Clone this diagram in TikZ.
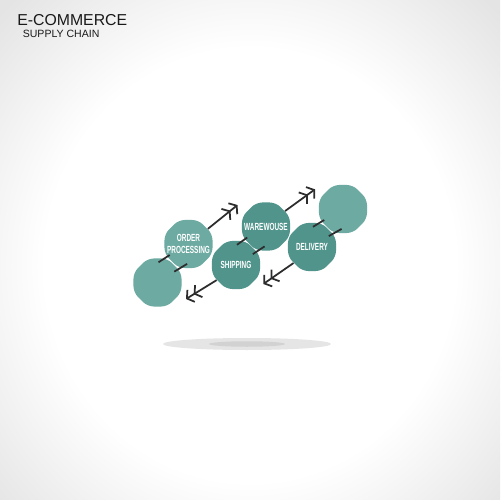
\documentclass[tikz,border=0pt]{standalone}
\usepackage{fontspec}
\setmainfont{Liberation Sans}
\newfontfamily\boxfont[FakeStretch=0.62]{Liberation Sans}
\usetikzlibrary{shapes.geometric}
\usetikzlibrary{arrows.meta}

\definecolor{tealA}{RGB}{108,170,162}
\definecolor{tealB}{RGB}{80,148,140}
\definecolor{linkgray}{RGB}{45,45,45}
\definecolor{bggray}{RGB}{228,228,228}

\pgfdeclareradialshading{bgglow}{\pgfpoint{0bp}{0bp}}{color(0bp)=(white); color(19bp)=(white); color(32bp)=(bggray); color(50bp)=(bggray)}

\tikzset{
	octbox/.style={regular polygon, regular polygon sides=8, minimum size=1.04cm, inner sep=0pt, rounded corners=3.5pt},
	boxtext/.style={text=white, align=center, inner sep=0pt, font=\boxfont\bfseries\fontsize{5.9}{6.6}\selectfont},
	link/.style={draw=linkgray, line width=1pt},
	flow/.style={draw=linkgray, line width=1pt, -{Straight Barb[length=2.8pt,width=8pt,sep=1.2pt]Straight Barb[length=2.8pt,width=8pt]}}
}

\begin{document}
\begin{tikzpicture}[x=0.02cm,y=-0.02cm]
	\useasboundingbox (0,0) rectangle (500,500);
	
	% background
	\begin{scope}
		\clip (0,0) rectangle (500,500);
		\shade[shading=bgglow] (-20,-20) rectangle (520,550);
	\end{scope}
	
	% shadow
	\fill[gray!20] (247,344) ellipse [x radius=1.68cm, y radius=0.12cm];
	\fill[gray!35] (247,344) ellipse [x radius=0.76cm, y radius=0.055cm];
	
	% title
	\node[anchor=base west, inner sep=0pt, text=black!90, font=\fontsize{9}{10}\selectfont] (title) at (17,26) {E-COMMERCE};
	\node[anchor=base west, inner sep=0pt, text=black!90, font=\fontsize{6}{7}\selectfont] (subtitle) at (22.5,37.5) {SUPPLY CHAIN};
	
	% draw nodes
	\node[octbox, fill=tealA] (blankA) at (157.5,282.5) {};
	\node[octbox, fill=tealA] (order) at (188.5,244) {};
	\node[octbox, fill=tealB] (ware) at (266,226.5) {};
	\node[octbox, fill=tealB] (ship) at (236,265) {};
	\node[octbox, fill=tealB] (deliv) at (312,247) {};
	\node[octbox, fill=tealA] (blankB) at (343,209) {};
	
	% links between boxes
	\draw[link] ([shift={(1,-20.2)}]blankA.center) -- ([shift={(-18.8,11)}]order.center);
	\draw[link] ([shift={(16.8,-10.9)}]blankA.center) -- ([shift={(-1.4,19.9)}]order.center);
	\draw[link] ([shift={(1,-20.2)}]ship.center) -- ([shift={(-18.8,11)}]ware.center);
	\draw[link] ([shift={(16.8,-10.9)}]ship.center) -- ([shift={(-1.4,19.9)}]ware.center);
	\draw[link] ([shift={(1,-20.2)}]deliv.center) -- ([shift={(-18.8,11)}]blankB.center);
	\draw[link] ([shift={(16.8,-10.9)}]deliv.center) -- ([shift={(-1.4,19.9)}]blankB.center);
	
	% box texts
	\node[boxtext] (orderText) at (order.center) {ORDER\\PROCESSING};
	\node[boxtext] (wareText) at (ware.center) {WAREWOUSE};
	\node[boxtext] (shipText) at (ship.center) {SHIPPING};
	\node[boxtext] (delivText) at (deliv.center) {DELIVERY};
	
	% arrows
	\coordinate (upA) at (237.5,205);
	\coordinate (upB) at (315,189.3);
	\coordinate (downA) at (186,299);
	\coordinate (downB) at (263.3,284);
	\draw[flow] (order.38) -- (upA);
	\draw[flow] (ware.39) -- (upB);
	\draw[flow] (ship.218) -- (downA);
	\draw[flow] (deliv.221) -- (downB);
\end{tikzpicture}
\end{document}
